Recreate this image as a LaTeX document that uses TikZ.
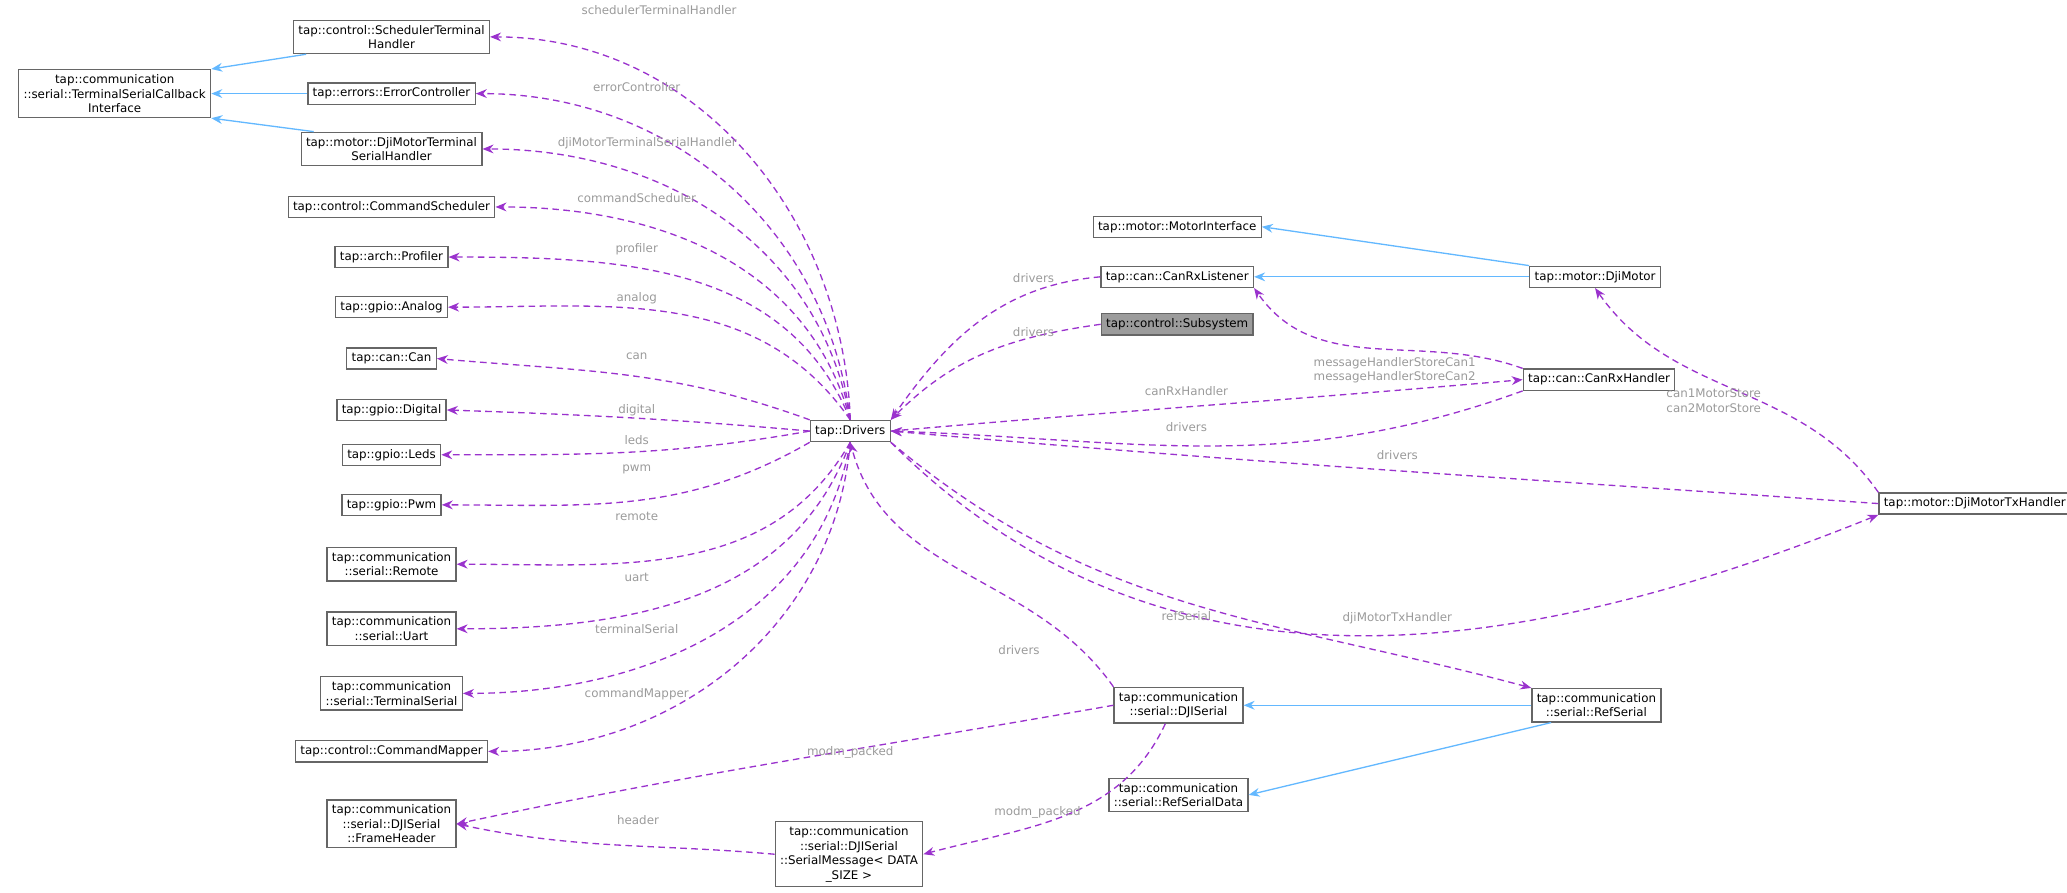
\documentclass[tikz,border=0pt]{standalone}
\usepackage{fontspec}
\setmainfont{DejaVu Sans}
\usetikzlibrary{arrows.meta}
\definecolor{useColor}{RGB}{154,50,205}
\definecolor{inhColor}{RGB}{99,184,255}
\definecolor{labelColor}{RGB}{154,154,154}
\definecolor{boxColor}{RGB}{102,102,102}
\tikzstyle{classBox} = [draw=boxColor, semithick, fill=white, align=center, inner sep=2.2pt, font=\fontsize{5.4}{6.6}\selectfont]
\tikzstyle{useEdge} = [color=useColor, dash pattern=on 3pt off 2pt, semithick, -{Stealth[length=5pt,width=4pt]}]
\tikzstyle{inhEdge} = [color=inhColor, semithick, -{Stealth[length=5pt,width=4pt]}]
\tikzstyle{edgeLabel} = [text=labelColor, align=center, inner sep=0pt, font=\fontsize{5.4}{6.6}\selectfont]
\newcommand{\colX}{297}
\begin{document}
\begin{tikzpicture}[x=0.6pt, y=0.6pt]
        \useasboundingbox (0,0) rectangle (1568,677);
        % base class and left column
        \node [classBox] (tsci) at (87,606) {tap::communication\\::serial::TerminalSerialCallback\\Interface};
        \node [classBox] (sched) at (\colX,649) {tap::control::SchedulerTerminal\\Handler};
        \node [classBox] (err) at (\colX,606) {tap::errors::ErrorController};
        \node [classBox] (djmt) at (\colX,564) {tap::motor::DjiMotorTerminal\\SerialHandler};
        \node [classBox] (cmdSched) at (\colX,520) {tap::control::CommandScheduler};
        \node [classBox] (prof) at (\colX,482) {tap::arch::Profiler};
        \node [classBox] (analog) at (\colX,444) {tap::gpio::Analog};
        \node [classBox] (can) at (\colX,405) {tap::can::Can};
        \node [classBox] (digital) at (\colX,366) {tap::gpio::Digital};
        \node [classBox] (leds) at (\colX,332) {tap::gpio::Leds};
        \node [classBox] (pwm) at (\colX,294) {tap::gpio::Pwm};
        \node [classBox] (remote) at (\colX,249) {tap::communication\\::serial::Remote};
        \node [classBox] (uart) at (\colX,200) {tap::communication\\::serial::Uart};
        \node [classBox] (termSerial) at (\colX,151) {tap::communication\\::serial::TerminalSerial};
        \node [classBox] (cmdMapper) at (\colX,107) {tap::control::CommandMapper};
        \node [classBox] (frameHeader) at (\colX,52) {tap::communication\\::serial::DJISerial\\::FrameHeader};
        \node [classBox] (serialMsg) at (644,29) {tap::communication\\::serial::DJISerial\\::SerialMessage< DATA\\\_SIZE >};
        % middle and right
        \node [classBox] (drv) at (645,350) {tap::Drivers};
        \node [classBox] (motorIf) at (893,505) {tap::motor::MotorInterface};
        \node [classBox] (rxListener) at (893,467) {tap::can::CanRxListener};
        \node [classBox, fill=boxColor!65] (subsys) at (893,431) {tap::control::Subsystem};
        \node [classBox] (djiMotor) at (1210,467) {tap::motor::DjiMotor};
        \node [classBox] (rxHandler) at (1213,389) {tap::can::CanRxHandler};
        \node [classBox] (txHandler) at (1498,295) {tap::motor::DjiMotorTxHandler};
        \node [classBox] (djiSerial) at (894,142) {tap::communication\\::serial::DJISerial};
        \node [classBox] (refSerial) at (1211,142) {tap::communication\\::serial::RefSerial};
        \node [classBox] (refData) at (894,74) {tap::communication\\::serial::RefSerialData};

        % inheritance
        \draw [inhEdge] ([xshift=6pt]sched.south west) -- (tsci.north east);
        \draw [inhEdge] (err) -- (tsci);
        \draw [inhEdge] ([xshift=6pt]djmt.north west) -- (tsci.south east);
        \draw [inhEdge] (djiMotor.north west) -- (motorIf.east);
        \draw [inhEdge] (djiMotor) -- (rxListener);
        \draw [inhEdge] (refSerial) -- (djiSerial);
        \draw [inhEdge] ([xshift=9pt]refSerial.south west) -- (refData.east);

        % members of the drivers
        \draw [useEdge] (drv.north) to[out=92,in=0] (sched.east);
        \node [edgeLabel] at (500,669) {schedulerTerminalHandler};
        \draw [useEdge] (drv.north) to[out=97,in=0] (err.east);
        \node [edgeLabel] at (483,611) {errorController};
        \draw [useEdge] (drv.north) to[out=100,in=0] (djmt.east);
        \node [edgeLabel] at (491,568) {djiMotorTerminalSerialHandler};
        \draw [useEdge] (drv.north) to[out=105,in=0] (cmdSched.east);
        \node [edgeLabel] at (483,527) {commandScheduler};
        \draw [useEdge] (drv.north) to[out=112,in=0] (prof.east);
        \node [edgeLabel] at (483,488) {profiler};
        \draw [useEdge] (drv.north) to[out=125,in=0] (analog.east);
        \node [edgeLabel] at (483,451) {analog};
        \draw [useEdge] (drv.north west) to[out=160,in=-5] (can.east);
        \node [edgeLabel] at (483,407) {can};
        \draw [useEdge] (drv.west) to[out=175,in=-2] (digital.east);
        \node [edgeLabel] at (483,366) {digital};
        \draw [useEdge] (drv.west) to[out=190,in=0] (leds.east);
        \node [edgeLabel] at (483,343) {leds};
        \draw [useEdge] (drv.south west) to[out=-150,in=0] (pwm.east);
        \node [edgeLabel] at (483,321) {pwm};
        \draw [useEdge] (drv.south) to[out=-120,in=0] (remote.east);
        \node [edgeLabel] at (483,285) {remote};
        \draw [useEdge] (drv.south) to[out=-110,in=0] (uart.east);
        \node [edgeLabel] at (483,239) {uart};
        \draw [useEdge] (drv.south) to[out=-100,in=0] (termSerial.east);
        \node [edgeLabel] at (483,200) {terminalSerial};
        \draw [useEdge] (drv.south) to[out=-95,in=0] (cmdMapper.east);
        \node [edgeLabel] at (483,150) {commandMapper};

        % serial structures
        \draw [useEdge] (djiSerial.west) to[out=190,in=12] (frameHeader.east);
        \node [edgeLabel] at (645,106) {modm\_packed};
        \draw [useEdge] (serialMsg.west) to[out=175,in=-12] (frameHeader.east);
        \node [edgeLabel] at (484,55) {header};
        \draw [useEdge] ([xshift=-6pt]djiSerial.south) to[out=-115,in=15] (serialMsg.east);
        \node [edgeLabel] at (787,61) {modm\_packed};

        % references back to the drivers
        \draw [useEdge] (rxListener.west) to[out=185,in=55] (drv.north east);
        \node [edgeLabel] at (784,466) {drivers};
        \draw [useEdge] (subsys.west) to[out=188,in=45] (drv.north east);
        \node [edgeLabel] at (784,425) {drivers};
        \draw [useEdge] (drv.east) to[out=5,in=185] (rxHandler.west);
        \node [edgeLabel] at (900,380) {canRxHandler};
        \draw [useEdge] (rxHandler.south west) to[out=-160,in=-2] (drv.east);
        \node [edgeLabel] at (900,353) {drivers};
        \draw [useEdge] (txHandler.west) to[out=176,in=-5] (drv.east);
        \node [edgeLabel] at (1060,332) {drivers};
        \draw [useEdge] (drv.south east) to[out=-45,in=-158] (txHandler.south west);
        \node [edgeLabel] at (1060,208) {djiMotorTxHandler};
        \draw [useEdge] (drv.south east) to[out=-40,in=165] (refSerial.north west);
        \node [edgeLabel] at (900,210) {refSerial};
        \draw [useEdge] (djiSerial.north west) to[out=125,in=-75] (drv.south);
        \node [edgeLabel] at (773,184) {drivers};
        \draw [useEdge] (rxHandler.north west) to[out=160,in=-55] (rxListener.south east);
        \node [edgeLabel] at (1058,396) {messageHandlerStoreCan1\\messageHandlerStoreCan2};
        \draw [useEdge] (txHandler.north west) to[out=125,in=-55] (djiMotor.south);
        \node [edgeLabel] at (1300,373) {can1MotorStore\\can2MotorStore};
      \end{tikzpicture}
\end{document}
